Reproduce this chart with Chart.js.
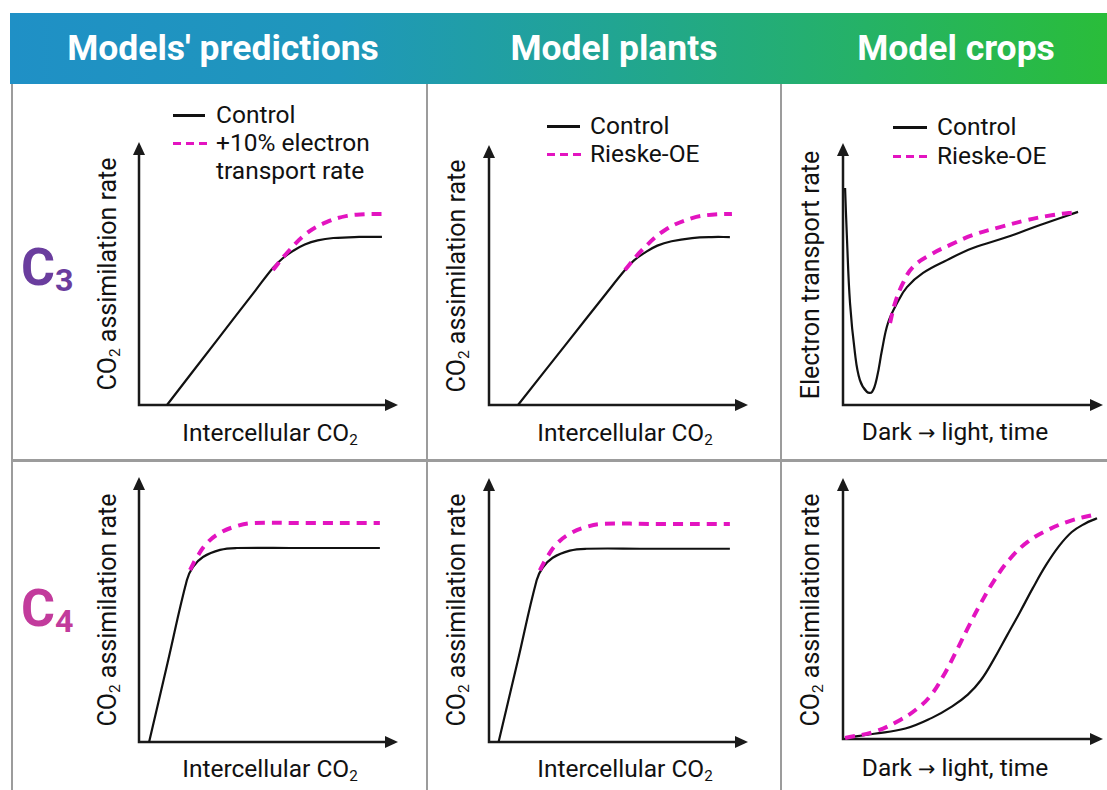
<!DOCTYPE html>
<html>
<head>
<meta charset="utf-8">
<script src="https://cdn.jsdelivr.net/npm/chart.js@4.4.1/dist/chart.umd.min.js"></script>
<style>
  body { margin: 0; background: #fff; font-family: Roboto, "Noto Sans", sans-serif; }
  #wrap { position: relative; width: 1107px; height: 790px; overflow: hidden; }
  .head { position: absolute; left: 10px; top: 13px; width: 1097px; height: 71px;
    background: linear-gradient(90deg, #1f90c6 0%, #1f97bb 30%, #21a592 55%, #25b266 78%, #2abd3a 100%); }
  .head span { position: absolute; top: 0; line-height: 71px; color: #fff; font-weight: 700; font-size: 35.5px;
    transform: translateX(-50%); white-space: nowrap; }
  .rule { position: absolute; background: #9c9c9c; }
  .lbl { position: absolute; font-size: 24.5px; color: #111; white-space: nowrap; transform: translate(-50%, -50%); line-height: 1; }
  .ylbl { position: absolute; font-size: 25px; color: #111; white-space: nowrap; transform: translate(-50%, -50%) rotate(-90deg); line-height: 1; }
  sub { font-size: 0.62em; line-height: 0; vertical-align: -0.3em; }
  .arr { font-family: "DejaVu Sans", sans-serif; font-size: 0.85em; }
  .row { position: absolute; font-size: 52px; font-weight: 700; line-height: 1; transform: translateY(-50%); }
  .row sub { font-size: 0.62em; vertical-align: -0.2em; }
  .leg { position: absolute; font-size: 24.5px; color: #111; white-space: nowrap; line-height: 28px; }
  .solid { position: absolute; height: 2.5px; background: #111; }
  .dash { position: absolute; height: 3px; background: repeating-linear-gradient(90deg, #e314c0 0 8px, transparent 8px 13px); }
  canvas { position: absolute; }
</style>
</head>
<body>
<div id="wrap">
  <div class="head">
    <span style="left:213px">Models' predictions</span>
    <span style="left:604px">Model plants</span>
    <span style="left:946px">Model crops</span>
  </div>

  <div class="rule" style="left:11px;top:84px;width:2px;height:706px"></div>
  <div class="rule" style="left:426px;top:84px;width:2px;height:706px"></div>
  <div class="rule" style="left:780px;top:84px;width:2px;height:706px"></div>
  <div class="rule" style="left:11px;top:459px;width:1096px;height:3px"></div>

  <div class="row" style="left:21px;top:268px;color:#6a3d9e">C<sub>3</sub></div>
  <div class="row" style="left:21px;top:609px;color:#c23b9c">C<sub>4</sub></div>

  <!-- axis titles -->
  <div class="ylbl" style="left:107px;top:274px">CO<sub>2</sub> assimilation rate</div>
  <div class="ylbl" style="left:456px;top:276px">CO<sub>2</sub> assimilation rate</div>
  <div class="ylbl" style="left:810px;top:275px">Electron transport rate</div>
  <div class="ylbl" style="left:107px;top:610px">CO<sub>2</sub> assimilation rate</div>
  <div class="ylbl" style="left:456px;top:610px">CO<sub>2</sub> assimilation rate</div>
  <div class="ylbl" style="left:810px;top:610px">CO<sub>2</sub> assimilation rate</div>

  <div class="lbl" style="left:270px;top:433px">Intercellular CO<sub>2</sub></div>
  <div class="lbl" style="left:625px;top:433px">Intercellular CO<sub>2</sub></div>
  <div class="lbl" style="left:955px;top:432px">Dark <span class="arr">→</span> light, time</div>
  <div class="lbl" style="left:270px;top:769px">Intercellular CO<sub>2</sub></div>
  <div class="lbl" style="left:625px;top:769px">Intercellular CO<sub>2</sub></div>
  <div class="lbl" style="left:955px;top:768px">Dark <span class="arr">→</span> light, time</div>

  <!-- legends -->
  <div class="solid" style="left:173px;top:114px;width:32px"></div>
  <div class="leg" style="left:216px;top:101px">Control</div>
  <div class="dash" style="left:173px;top:142px;width:34px"></div>
  <div class="leg" style="left:216px;top:129px">+10% electron<br>transport rate</div>

  <div class="solid" style="left:547px;top:125px;width:33px"></div>
  <div class="leg" style="left:590px;top:112px">Control</div>
  <div class="dash" style="left:547px;top:153px;width:34px"></div>
  <div class="leg" style="left:590px;top:140px">Rieske-OE</div>

  <div class="solid" style="left:893px;top:126px;width:34px"></div>
  <div class="leg" style="left:937px;top:113px">Control</div>
  <div class="dash" style="left:893px;top:155px;width:34px"></div>
  <div class="leg" style="left:937px;top:142px">Rieske-OE</div>
</div>

<script>
// curves as [x, y] in axis units (0-100 on both axes)
const predC3Control = [[10.8,0],[30,24.5],[45,43.6],[51.7,52.1],[55.5,55.8],[59.5,58.6],[64,61],[69,62.6],[75,63.5],[85,63.9],[93.8,63.9]];
const predC3Boost   = [[51.7,51.3],[57.1,57.8],[64.9,65.4],[72.6,69.6],[80.3,71.9],[87,72.5],[93.8,72.6]];

const plantC3Control = [[11.2,0],[30,23.7],[45,42.6],[52.5,51.9],[56,55.6],[60.2,58.6],[65,61.3],[70.5,63],[78.4,64.2],[86,64.6],[93,64.6]];
const plantC3Boost   = [[52.5,51.9],[59.1,59.6],[68,67.3],[78.4,71.9],[86,73.2],[93.8,73.5]];

const cropC3Control = [[0.8,82.8],[1.5,64.1],[2.7,38.9],[4.6,19.8],[6.5,9.5],[9.2,5],[11.2,5],[13.1,10.7],[15,21],[17.3,31.3],[20.8,38.9],[24.6,45],[30.8,50.4],[40,55.3],[50,59.9],[63.1,64.1],[75.8,68.7],[90.4,73.7]];
const cropC3Boost   = [[18.1,31.3],[20,38.9],[23.1,46.6],[26.9,52.7],[33.5,57.3],[41.2,61.1],[50,64.9],[60.4,67.9],[70.8,70.6],[80.8,72.5],[90.4,73.7]];

const predC4Control = [[3.9,0],[11,29.7],[18.5,61.1],[20.8,66],[24.7,69.8],[31.3,72.5],[37.8,73.2],[60,73.2],[93,73.2]];
const predC4Boost   = [[19.7,64.9],[22.4,69.8],[26.3,75.1],[31.3,78.9],[37.8,81.5],[44,82.6],[65,82.6],[93,82.6]];

const plantC4Control = [[3.7,0],[11,30.3],[18.4,61.3],[20.7,66],[24.6,69.8],[31.2,72.5],[37.7,73.2],[60,73.2],[93,73.2]];
const plantC4Boost   = [[19.6,65],[22.3,69.8],[26.2,75.1],[31.2,78.9],[37.7,81.5],[43.9,82.6],[65,82.6],[93,82.6]];

const cropC4Control = [[0.8,0.4],[12,2],[24,4],[34,8],[42,12.5],[48,17],[53,22.5],[58,30.5],[63,39.5],[68,48.5],[73,57.8],[78,66.5],[83,73.8],[88,79.3],[93,82.5],[97.7,84.6]];
const cropC4Boost   = [[0.8,0.4],[12,2.8],[22,7.3],[29,12],[34,17],[38.5,24],[43,32.5],[48,42.5],[53,52],[58,60.5],[64,68.8],[71,75.5],[79,80.2],[88,83.8],[96.2,85.8]];

// where each plot's axes sit on the page
const panels = [
  { x0: 139, y0: 405, x1: 398, y1: 142, control: predC3Control,  boost: predC3Boost },
  { x0: 489, y0: 405, x1: 748, y1: 145, control: plantC3Control, boost: plantC3Boost },
  { x0: 843, y0: 405, x1: 1103, y1: 143, control: cropC3Control, boost: cropC3Boost },
  { x0: 139, y0: 742, x1: 398, y1: 477, control: predC4Control,  boost: predC4Boost },
  { x0: 489, y0: 742, x1: 748, y1: 478, control: plantC4Control, boost: plantC4Boost },
  { x0: 843, y0: 739, x1: 1103, y1: 478, control: cropC4Control, boost: cropC4Boost }
];

const pad = 14;

const arrowAxes = {
  id: 'arrowAxes',
  beforeDatasetsDraw(chart) {
    const { ctx, chartArea: a } = chart;
    const len = 13, half = 6;
    ctx.save();
    ctx.strokeStyle = '#1a1a1a';
    ctx.fillStyle = '#1a1a1a';
    ctx.lineWidth = 2.5;
    ctx.beginPath();
    ctx.moveTo(a.left, a.top + len - 1);
    ctx.lineTo(a.left, a.bottom);
    ctx.lineTo(a.right - len + 1, a.bottom);
    ctx.stroke();
    ctx.beginPath();
    ctx.moveTo(a.left, a.top);
    ctx.lineTo(a.left - half, a.top + len);
    ctx.lineTo(a.left + half, a.top + len);
    ctx.closePath();
    ctx.fill();
    ctx.beginPath();
    ctx.moveTo(a.right, a.bottom);
    ctx.lineTo(a.right - len, a.bottom - half);
    ctx.lineTo(a.right - len, a.bottom + half);
    ctx.closePath();
    ctx.fill();
    ctx.restore();
  }
};

const wrap = document.getElementById('wrap');

panels.forEach(function(p) {
  const canvas = document.createElement('canvas');
  const w = p.x1 - p.x0 + 2 * pad;
  const h = p.y0 - p.y1 + 2 * pad;
  canvas.width = w;
  canvas.height = h;
  canvas.style.left = (p.x0 - pad) + 'px';
  canvas.style.top = (p.y1 - pad) + 'px';
  canvas.style.width = w + 'px';
  canvas.style.height = h + 'px';
  wrap.appendChild(canvas);

  new Chart(canvas.getContext('2d'), {
    type: 'line',
    data: {
      datasets: [{
        data: p.boost.map(function(d) { return { x: d[0], y: d[1] }; }),
        borderColor: '#e314c0',
        borderWidth: 4,
        borderDash: [10, 7],
        pointRadius: 0,
        tension: 0.4,
        clip: false
      }, {
        data: p.control.map(function(d) { return { x: d[0], y: d[1] }; }),
        borderColor: '#111',
        borderWidth: 2.2,
        pointRadius: 0,
        tension: 0.4,
        clip: false
      }]
    },
    options: {
      responsive: false,
      animation: false,
      events: [],
      layout: { padding: pad },
      plugins: { legend: { display: false }, tooltip: { enabled: false } },
      scales: {
        x: { type: 'linear', min: 0, max: 100, display: false },
        y: { type: 'linear', min: 0, max: 100, display: false }
      }
    },
    plugins: [arrowAxes]
  });
});
</script>
</body>
</html>
